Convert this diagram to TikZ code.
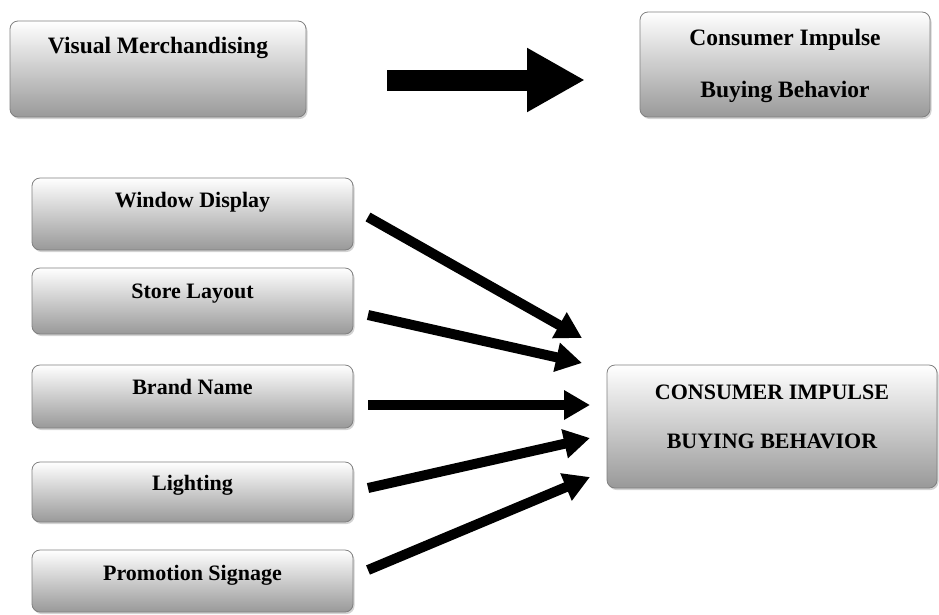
\documentclass[tikz,border=0pt]{standalone}
\usepackage{fontspec}
\setmainfont{Liberation Serif}
\usetikzlibrary{arrows.meta,shadows}
\tikzset{
  box/.style={draw=black!50, line width=0.8pt, rounded corners=8pt, inner sep=0pt,
    top color=white, bottom color=black!40,
    drop shadow={opacity=0.35, shadow xshift=1.5pt, shadow yshift=-2pt}},
  bigtxt/.style={anchor=base, inner sep=0pt, font=\fontsize{23.5}{28}\selectfont\bfseries},
  txt/.style={anchor=base, inner sep=0pt, font=\fontsize{22}{26}\selectfont\bfseries},
  arr/.style={line width=10pt, -{Triangle[length=26pt,width=28pt]}},
  bigarr/.style={line width=21pt, -{Triangle[length=58pt,width=60pt]}}
}
\begin{document}
\begin{tikzpicture}[x=1pt,y=-1pt]
\useasboundingbox (0,0) rectangle (939,614);
% top row
\node[box, minimum width=296pt, minimum height=96pt] (vm) at (158,69) {};
\node[bigtxt] (vmt) at (158,53) {Visual Merchandising};
\node[box, minimum width=290pt, minimum height=105pt] (cib) at (785,64.5) {};
\node[bigtxt] (cibt1) at (785,45) {Consumer Impulse};
\node[bigtxt] (cibt2) at (785,97) {Buying Behavior};
\coordinate (bs) at (387,80);
\coordinate (be) at (585,80);
\draw[bigarr] (bs) -- (be);
% left column
\node[box, minimum width=321pt, minimum height=72pt] (wd) at (192.5,214) {};
\node[txt] (wdt) at (192.5,207) {Window Display};
\node[box, minimum width=321pt, minimum height=66pt] (sl) at (192.5,301) {};
\node[txt] (slt) at (192.5,298) {Store Layout};
\node[box, minimum width=321pt, minimum height=63pt] (bn) at (192.5,396.5) {};
\node[txt] (bnt) at (192.5,394) {Brand Name};
\node[box, minimum width=321pt, minimum height=60pt] (li) at (192.5,492) {};
\node[txt] (lit) at (192.5,490) {Lighting};
\node[box, minimum width=321pt, minimum height=62pt] (ps) at (192.5,581) {};
\node[txt] (pst) at (192.5,580) {Promotion Signage};
% right box
\node[box, minimum width=330pt, minimum height=123pt] (cb) at (772,426.5) {};
\node[txt] (cbt1) at (772,399) {CONSUMER IMPULSE};
\node[txt] (cbt2) at (772,448) {BUYING BEHAVIOR};
% arrows
\coordinate (s1) at (368,217); \coordinate (e1) at (582,338);
\coordinate (s2) at (368,315); \coordinate (e2) at (582,363);
\coordinate (s3) at (368,405); \coordinate (e3) at (590,405);
\coordinate (s4) at (368,488); \coordinate (e4) at (590,438);
\coordinate (s5) at (368,570); \coordinate (e5) at (590,477);
\draw[arr] (s1) -- (e1);
\draw[arr] (s2) -- (e2);
\draw[arr] (s3) -- (e3);
\draw[arr] (s4) -- (e4);
\draw[arr] (s5) -- (e5);
\end{tikzpicture}
\end{document}
